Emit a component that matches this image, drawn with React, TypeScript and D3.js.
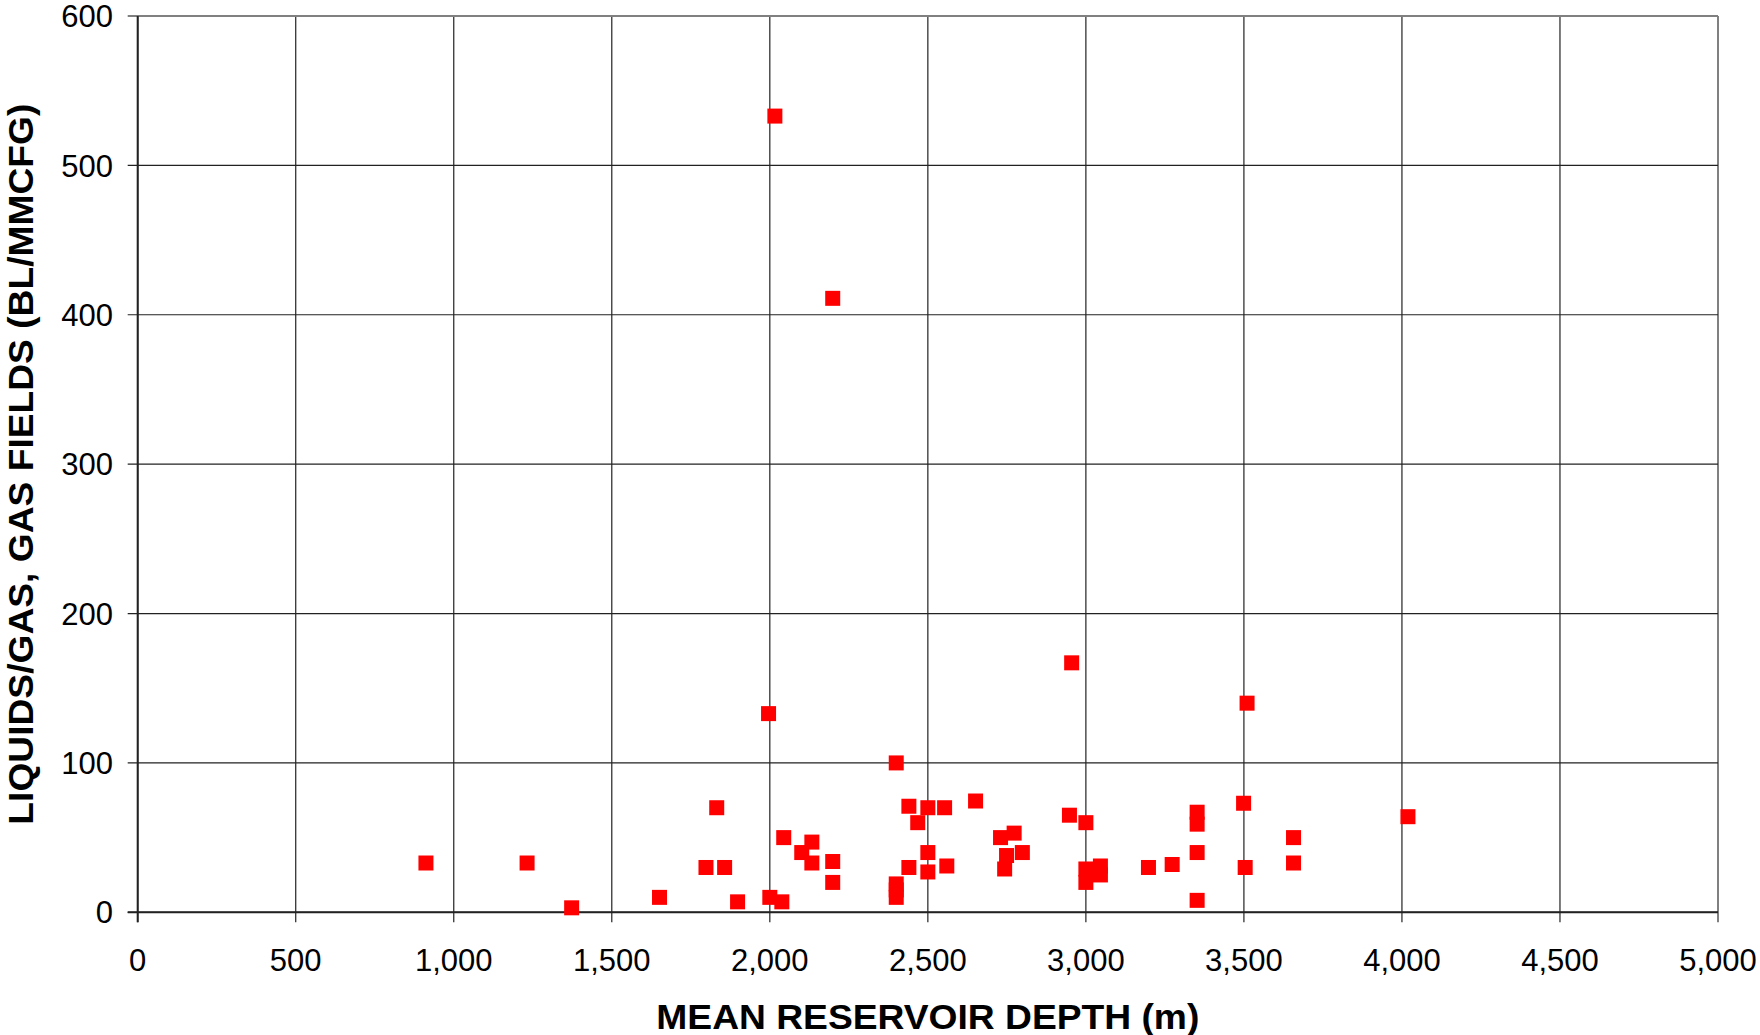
import React from "react";
import * as d3 from "d3";

const depthM = [912, 1232, 1373, 1651, 1798, 1832, 1857, 1898, 2000, 2038, 2044, 2101, 1996, 2016, 2133, 2133, 2199, 2199, 2199, 2400, 2400, 2400, 2400, 2440, 2468, 2500, 2553, 2651, 2440, 2500, 2500, 2560, 2730, 2773, 2749, 2743, 2799, 2955, 2948, 3000, 3000, 3000, 3046, 3046, 3198, 3273, 3352, 3352, 3352, 3352, 3499, 3510, 3504, 3657, 3657, 4019];
const liquidsGas = [33, 33, 3, 10, 30, 70, 30, 7, 10, 7, 50, 40, 133, 533, 47, 33, 34, 20, 411, 100, 19, 15, 10, 71, 60, 70, 70, 74.5, 30, 40, 27, 31, 50, 53, 38, 29, 40, 167, 65, 60, 29, 20, 31, 25, 30, 32, 67, 59, 40, 8, 73, 140, 30, 50, 33, 64];

const xTicks = [0, 500, 1000, 1500, 2000, 2500, 3000, 3500, 4000, 4500, 5000];
const yTicks = [0, 100, 200, 300, 400, 500, 600];

const xTitle = "MEAN RESERVOIR DEPTH (m)";
const yTitle = "LIQUIDS/GAS, GAS FIELDS (BL/MMCFG)";

const W = 1760;
const H = 1035;
const left = 137.7;
const right = 1718;
const top = 16;
const bottom = 912.3;

export default function App() {
  const x = d3.scaleLinear().domain([0, 5000]).range([left, right]);
  const y = d3.scaleLinear().domain([0, 600]).range([bottom, top]);
  const fmt = d3.format(",");
  const font = "'Liberation Sans', Arial, sans-serif";
  const ms = 15;

  return (
    <svg
      width={W}
      height={H}
      style={{ position: "absolute", left: 0, top: 0, background: "#fff" }}
      fontFamily={font}
    >
      <rect x={0} y={0} width={W} height={H} fill="#fff" />
      {xTicks.map((t) => (
        <line
          key={"gx" + t}
          x1={x(t)}
          x2={x(t)}
          y1={top}
          y2={bottom + 10}
          stroke={t === 5000 ? "#808080" : "#222"}
          strokeWidth={t === 5000 ? 2 : 1.2}
        />
      ))}
      {yTicks.map((t) => (
        <line
          key={"gy" + t}
          x1={left - 10}
          x2={right}
          y1={y(t)}
          y2={y(t)}
          stroke={t === 600 ? "#808080" : "#222"}
          strokeWidth={t === 600 ? 2 : 1.2}
        />
      ))}
      <line x1={left} x2={left} y1={top} y2={bottom + 10} stroke="#222" strokeWidth={2} />
      <line x1={left - 10} x2={right} y1={bottom} y2={bottom} stroke="#222" strokeWidth={2} />

      {yTicks.map((t) => (
        <text
          key={"yl" + t}
          x={113}
          y={y(t)}
          dy="0.36em"
          textAnchor="end"
          fontSize={31}
          fill="#000"
        >
          {fmt(t)}
        </text>
      ))}
      {xTicks.map((t) => (
        <text
          key={"xl" + t}
          x={x(t)}
          y={971}
          textAnchor="middle"
          fontSize={31}
          fill="#000"
        >
          {fmt(t)}
        </text>
      ))}

      {depthM.map((d, i) => (
        <rect
          key={"p" + i}
          x={x(d) - ms / 2}
          y={y(liquidsGas[i]) - ms / 2}
          width={ms}
          height={ms}
          fill="#ff0000"
        />
      ))}

      <text
        x={(left + right) / 2}
        y={1029}
        textAnchor="middle"
        fontSize={35}
        fontWeight="bold"
        fill="#000"
        textLength={543}
        lengthAdjust="spacingAndGlyphs"
      >
        {xTitle}
      </text>
      <text
        transform={`translate(33, ${(top + bottom) / 2}) rotate(-90)`}
        textAnchor="middle"
        fontSize={35}
        fontWeight="bold"
        fill="#000"
        textLength={721}
        lengthAdjust="spacingAndGlyphs"
      >
        {yTitle}
      </text>
    </svg>
  );
}
